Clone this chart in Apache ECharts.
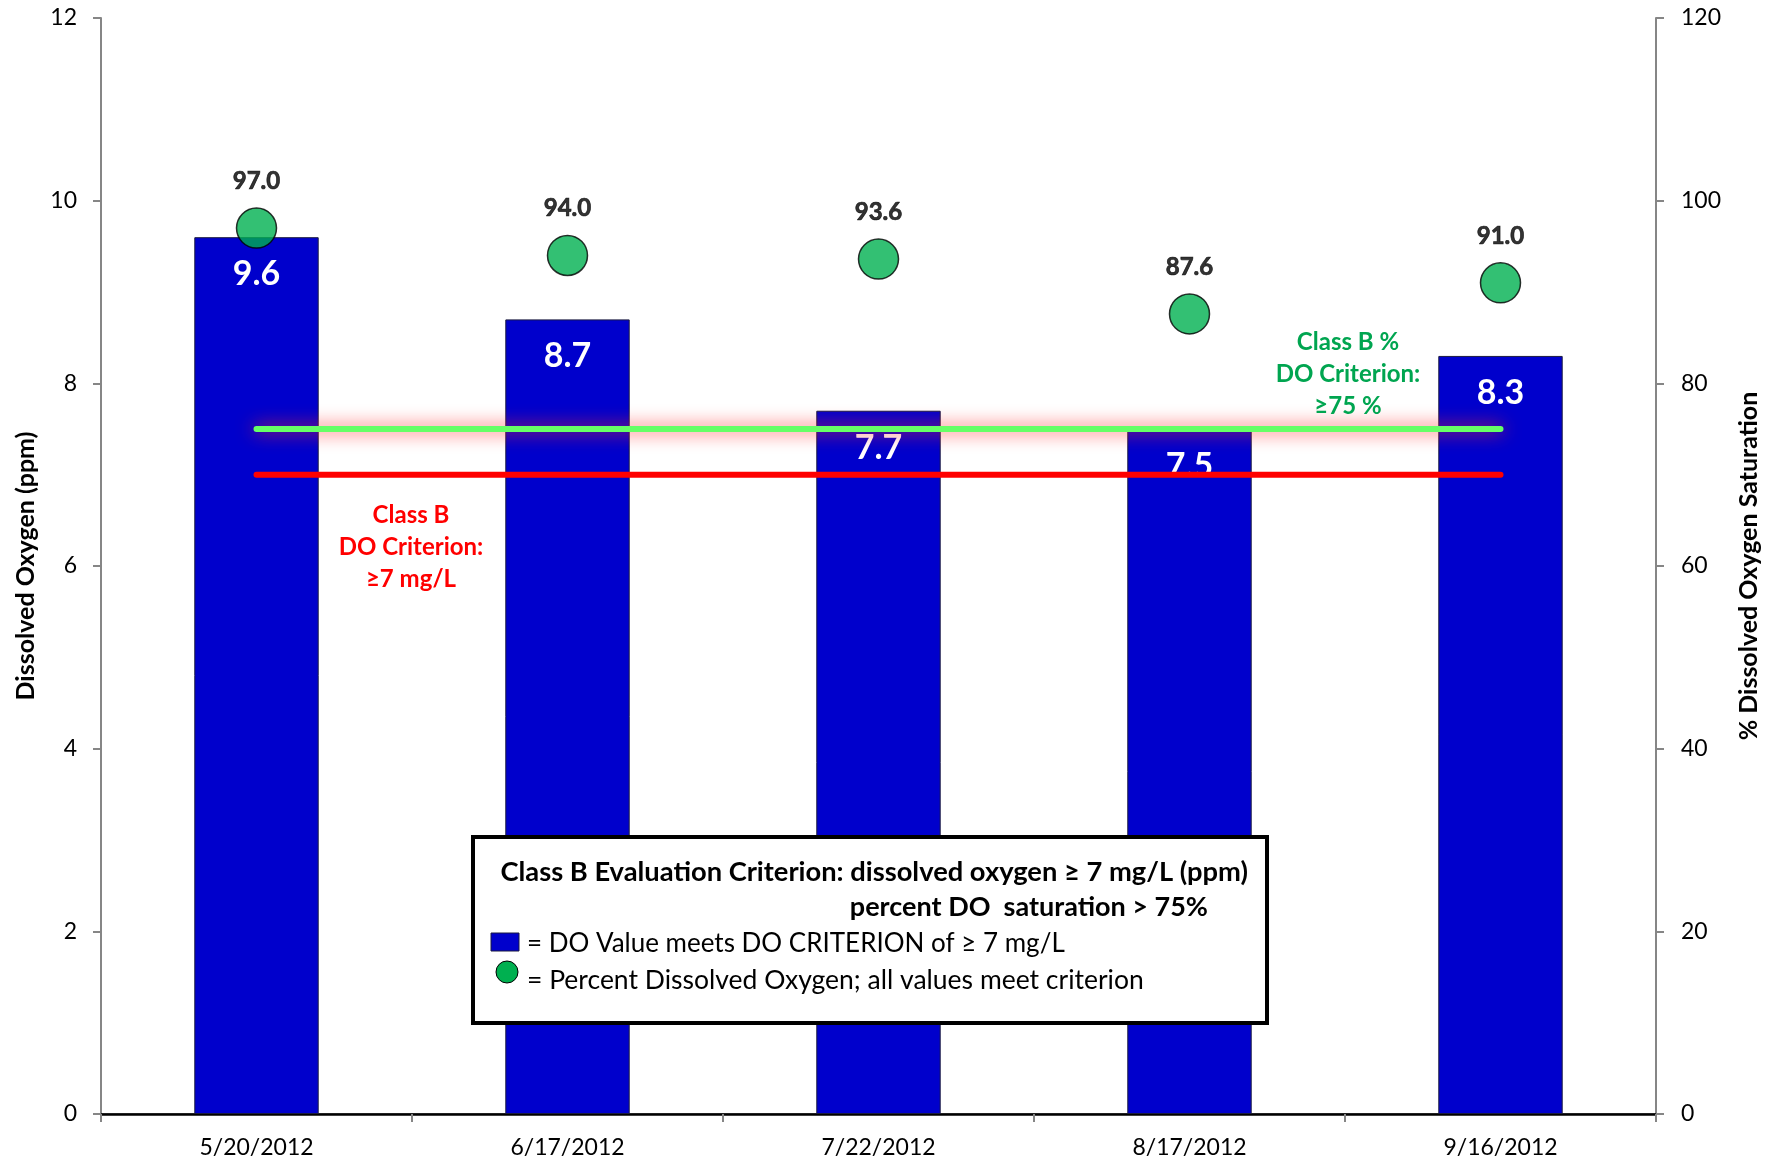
<!DOCTYPE html>
<html>
<head>
<meta charset="utf-8">
<script src="https://cdn.jsdelivr.net/npm/echarts@6/dist/echarts.min.js"></script>
<style>
html,body{margin:0;padding:0;background:#fff;}
#chart{width:1774px;height:1164px;}
</style>
</head>
<body>
<div id="chart"></div>
<script>
const categories = ['5/20/2012', '6/17/2012', '7/22/2012', '8/17/2012', '9/16/2012'];
const doValues = [9.6, 8.7, 7.7, 7.5, 8.3];
const pctSaturation = [97.0, 94.0, 93.6, 87.6, 91.0];
const doCriterion = 7;
const pctCriterion = 75;
const leftTicks = [0, 2, 4, 6, 8, 10, 12];
const rightTicks = [0, 20, 40, 60, 80, 100, 120];

const FONT = 'Lato';
const chart = echarts.init(document.getElementById('chart'));

const axisGrey = '#868686';

chart.setOption({
  animation: false,
  backgroundColor: '#ffffff',
  textStyle: { fontFamily: FONT },
  grid: { left: 101, right: 118, top: 18, bottom: 50, containLabel: false },
  xAxis: [
    {
      type: 'category',
      data: categories,
      position: 'bottom',
      axisLine: { lineStyle: { color: axisGrey, width: 2 } },
      axisTick: { show: true, length: 8, inside: false, lineStyle: { color: axisGrey, width: 2 } },
      axisLabel: { color: '#000', fontSize: 23, fontFamily: FONT, margin: 22 },
      splitLine: { show: false }
    },
    {
      type: 'category',
      data: categories,
      position: 'top',
      axisLine: { lineStyle: { color: '#000', width: 2.5 } },
      axisTick: { show: false },
      axisLabel: { show: false },
      splitLine: { show: false }
    }
  ],
  yAxis: [
    {
      type: 'value',
      min: leftTicks[0],
      max: leftTicks[leftTicks.length - 1],
      interval: leftTicks[1] - leftTicks[0],
      position: 'left',
      name: 'Dissolved Oxygen (ppm)',
      nameLocation: 'middle',
      nameGap: 63,
      nameRotate: 90,
      nameTextStyle: { color: '#000', fontSize: 25, fontWeight: 'bold', fontFamily: FONT },
      axisLine: { show: true, lineStyle: { color: axisGrey, width: 2 } },
      axisTick: { show: true, length: 8, lineStyle: { color: axisGrey, width: 2 } },
      axisLabel: { color: '#000', fontSize: 23, fontFamily: FONT, margin: 24 },
      splitLine: { show: false }
    },
    {
      type: 'value',
      min: rightTicks[0],
      max: rightTicks[rightTicks.length - 1],
      interval: rightTicks[1] - rightTicks[0],
      position: 'right',
      name: '% Dissolved Oxygen Saturation',
      nameLocation: 'middle',
      nameGap: 80,
      nameRotate: 90,
      nameTextStyle: { color: '#000', fontSize: 25, fontWeight: 'bold', fontFamily: FONT },
      axisLine: { show: true, lineStyle: { color: axisGrey, width: 2 } },
      axisTick: { show: true, length: 8, lineStyle: { color: axisGrey, width: 2 } },
      axisLabel: { color: '#000', fontSize: 23, fontFamily: FONT, margin: 25 },
      splitLine: { show: false }
    }
  ],
  series: [
    {
      name: 'DO',
      type: 'bar',
      xAxisIndex: 0,
      yAxisIndex: 0,
      data: doValues,
      barWidth: '40%',
      itemStyle: { color: '#0000CC', borderColor: '#1a1a40', borderWidth: 1 },
      label: {
        show: true,
        position: 'insideTop',
        distance: 20,
        color: '#fff',
        fontSize: 34,
        fontWeight: 'bold',
        fontFamily: FONT,
        formatter: p => p.value.toFixed(1)
      },
      z: 2
    },
    {
      name: 'Criterion 7',
      type: 'line',
      xAxisIndex: 0,
      yAxisIndex: 0,
      data: categories.map(() => doCriterion),
      symbol: 'none',
      lineStyle: { color: '#FF0000', width: 6, cap: 'round' },
      z: 3,
      silent: true
    },
    {
      name: 'Criterion 75',
      type: 'line',
      xAxisIndex: 0,
      yAxisIndex: 1,
      data: categories.map(() => pctCriterion),
      symbol: 'none',
      lineStyle: { color: '#66FF66', width: 6, cap: 'round', shadowColor: 'rgba(255,40,40,1)', shadowBlur: 18 },
      z: 4,
      silent: true
    },
    {
      name: '% Saturation',
      type: 'scatter',
      xAxisIndex: 0,
      yAxisIndex: 1,
      data: pctSaturation,
      symbol: 'circle',
      symbolSize: 40,
      itemStyle: { color: '#00B050', borderColor: '#000', borderWidth: 1.5 },
      label: {
        show: true,
        position: 'top',
        distance: 14,
        color: '#000',
        fontSize: 24,
        fontWeight: 'bold',
        fontFamily: FONT,
        textBorderColor: '#000',
        textBorderWidth: 0.7,
        formatter: p => p.value.toFixed(1)
      },
      z: 5
    }
  ],
  graphic: [
    {
      type: 'text', x: 411, y: 515, z: 10,
      style: { text: 'Class B', fill: '#FF0000', font: 'bold 24px Lato', textAlign: 'center', textVerticalAlign: 'middle' }
    },
    {
      type: 'text', x: 411, y: 547, z: 10,
      style: { text: 'DO Criterion:', fill: '#FF0000', font: 'bold 24px Lato', textAlign: 'center', textVerticalAlign: 'middle' }
    },
    {
      type: 'text', x: 411, y: 579, z: 10,
      style: { text: '≥7 mg/L', fill: '#FF0000', font: 'bold 24px Lato', textAlign: 'center', textVerticalAlign: 'middle' }
    },
    {
      type: 'text', x: 1348, y: 342, z: 10,
      style: { text: 'Class B %', fill: '#00A550', font: 'bold 24px Lato', textAlign: 'center', textVerticalAlign: 'middle' }
    },
    {
      type: 'text', x: 1348, y: 374, z: 10,
      style: { text: 'DO Criterion:', fill: '#00A550', font: 'bold 24px Lato', textAlign: 'center', textVerticalAlign: 'middle' }
    },
    {
      type: 'text', x: 1348, y: 406, z: 10,
      style: { text: '≥75 %', fill: '#00A550', font: 'bold 24px Lato', textAlign: 'center', textVerticalAlign: 'middle' }
    },
    {
      type: 'rect', z: 20,
      shape: { x: 473, y: 837, width: 794, height: 186 },
      style: { fill: '#fff', stroke: '#000', lineWidth: 4 }
    },
    {
      type: 'text', x: 1248, y: 872, z: 21,
      style: { text: 'Class B Evaluation Criterion: dissolved oxygen ≥ 7 mg/L (ppm)', fill: '#000', font: 'bold 27.3px Lato', textAlign: 'right', textVerticalAlign: 'middle' }
    },
    {
      type: 'text', x: 1208, y: 907, z: 21,
      style: { text: 'percent DO  saturation > 75%', fill: '#000', font: 'bold 27px Lato', textAlign: 'right', textVerticalAlign: 'middle' }
    },
    {
      type: 'rect', z: 21,
      shape: { x: 491, y: 933, width: 28, height: 18 },
      style: { fill: '#0000CC', stroke: '#1a1a40', lineWidth: 1 }
    },
    {
      type: 'text', x: 527, y: 944, z: 21,
      style: { text: '= DO Value meets DO CRITERION of ≥ 7 mg/L', fill: '#000', font: '26px Lato', textAlign: 'left', textVerticalAlign: 'middle' }
    },
    {
      type: 'circle', z: 21,
      shape: { cx: 507, cy: 972, r: 11 },
      style: { fill: '#00B050', stroke: '#000', lineWidth: 1 }
    },
    {
      type: 'text', x: 527, y: 980, z: 21,
      style: { text: '= Percent Dissolved Oxygen; all values meet criterion', fill: '#000', font: '26.5px Lato', textAlign: 'left', textVerticalAlign: 'middle' }
    }
  ]
});
</script>
</body>
</html>
